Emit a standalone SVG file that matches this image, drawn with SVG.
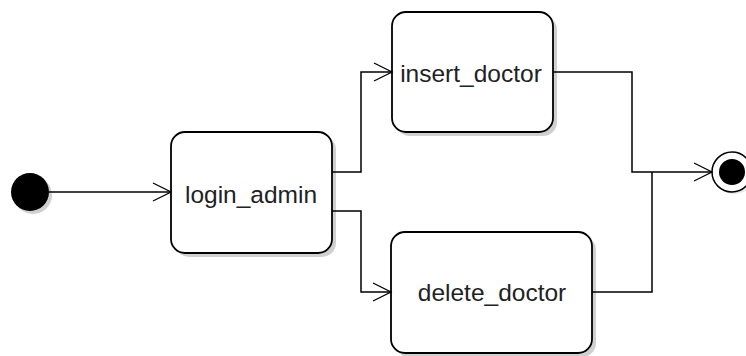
<svg xmlns="http://www.w3.org/2000/svg" width="746" height="356" viewBox="0 0 746 356">
  <defs>
    <marker id="open-arrow" markerUnits="userSpaceOnUse" markerWidth="20" markerHeight="20" refX="18" refY="9" orient="auto" overflow="visible">
      <path d="M0,0 L18,9 L0,18" fill="none" stroke="#000" stroke-width="1.3"/>
    </marker>
  </defs>
  <style>
    .shadow { fill: #d0d0d0; }
    .state { fill: #ffffff; stroke: #000; stroke-width: 1.8; }
    .label { font-family: "Liberation Sans", Arial, sans-serif; font-size: 24.5px; fill: #222; text-anchor: middle; }
    .edge { fill: none; stroke: #000; stroke-width: 1.5; }
  </style>
  <rect width="746" height="356" fill="#ffffff"/>

  <!-- start pseudo-state -->
  <g id="start">
    <circle cx="33" cy="195" r="19" class="shadow"/>
    <circle cx="30" cy="192" r="19" fill="#000"/>
  </g>

  <!-- activity states -->
  <g id="login_admin">
    <rect x="175" y="136" width="161" height="121" rx="14" class="shadow"/>
    <rect x="171" y="132" width="161" height="121" rx="14" class="state"/>
    <text x="251" y="203" class="label">login_admin</text>
  </g>
  <g id="insert_doctor">
    <rect x="396" y="16" width="161" height="120" rx="14" class="shadow"/>
    <rect x="392" y="12" width="161" height="120" rx="14" class="state"/>
    <text x="471" y="82" class="label">insert_doctor</text>
  </g>
  <g id="delete_doctor">
    <rect x="395" y="236" width="201" height="121" rx="14" class="shadow"/>
    <rect x="391" y="232" width="201" height="121" rx="14" class="state"/>
    <text x="492" y="301" class="label">delete_doctor</text>
  </g>

  <!-- final pseudo-state -->
  <g id="end">
    <circle cx="734" cy="174" r="20" class="shadow" opacity="0.5"/>
    <circle cx="732" cy="172" r="20" fill="#fff" stroke="#000" stroke-width="1.5"/>
    <circle cx="732" cy="172" r="13" fill="#000"/>
  </g>

  <!-- transitions -->
  <g id="connectors">
    <path class="edge" d="M49,192 H171" marker-end="url(#open-arrow)"/>
    <path class="edge" d="M332,172 H361 V72 H392" marker-end="url(#open-arrow)"/>
    <path class="edge" d="M332,211 H361 V292 H391" marker-end="url(#open-arrow)"/>
    <path class="edge" d="M553,72 H632 V172 H712" marker-end="url(#open-arrow)"/>
    <path class="edge" d="M592,292 H652 V172"/>
  </g>
</svg>
